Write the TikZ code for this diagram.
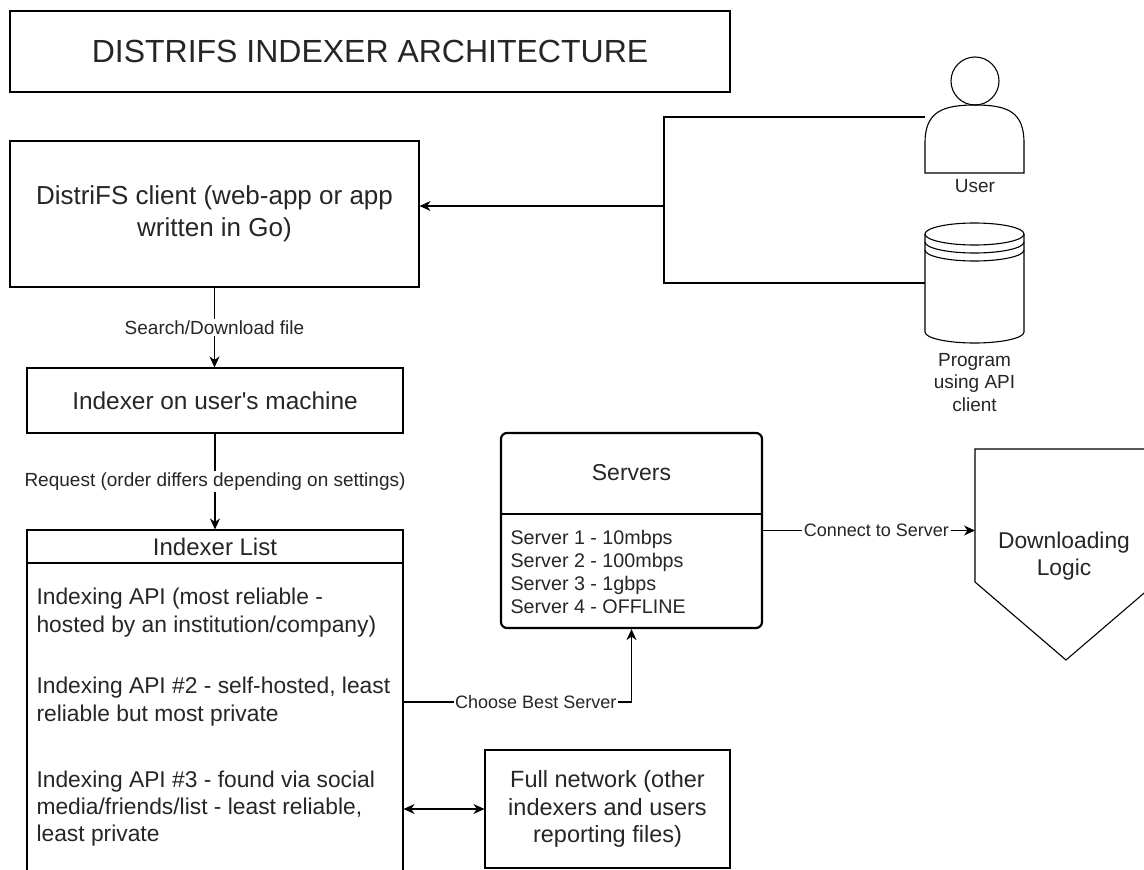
\documentclass[tikz,border=0pt]{standalone}
\usepackage{fontspec}
\setmainfont{Liberation Sans}
\usetikzlibrary{arrows.meta}
\definecolor{txt}{HTML}{262626}
\newcommand\fs[2]{\fontsize{#1}{#2}\selectfont}
\begin{document}
\begin{tikzpicture}[x=1pt,y=-1pt, line width=1.1pt,
  box/.style={draw, text=txt, align=center, inner sep=0pt},
  lbl/.style={fill=white, text=txt, inner sep=1.5pt, font=\fs{19}{22}},
  arr/.style={-{Stealth[length=11pt,width=10pt,inset=3.5pt]}},
  darr/.style={{Stealth[length=11pt,width=10pt,inset=3.5pt]}-{Stealth[length=11pt,width=10pt,inset=3.5pt]}},
  plain/.style={text=txt, inner sep=0pt}
]
\useasboundingbox (0,0) rectangle (1144,870);
\fill[white] (0,0) rectangle (1144,870);

% title
\node[box, minimum width=720pt, minimum height=81pt, font=\fs{32}{38}] (title) at (370,51.5) {DISTRIFS INDEXER ARCHITECTURE};

% client
\node[box, minimum width=409pt, minimum height=146pt, font=\fs{26}{32}] (client) at (214.5,214) {DistriFS client (web-app or app\\written in Go)};

% indexer on user's machine
\node[box, minimum width=376pt, minimum height=65pt, font=\fs{24.4}{29}] (idx) at (215,400.5) {Indexer on user\textquotesingle s machine};

% indexer list
\node[box, minimum width=376pt, minimum height=33pt, font=\fs{24}{29}] (ilhead) at (215,546.5) {Indexer List};
\node[draw, minimum width=376pt, minimum height=340pt, inner sep=0pt] (ilbody) at (215,733) {};
\node[plain, anchor=west, align=left, font=\fs{22.8}{28}] (it1) at (36,613) {Indexing API (most reliable -\\hosted by an institution/company)};
\node[plain, anchor=west, align=left, font=\fs{22.8}{28}] (it2) at (36,702) {Indexing API \#2 - self-hosted, least\\reliable but most private};
\node[plain, anchor=west, align=left, font=\fs{22.8}{27}] (it3) at (36,808.5) {Indexing API \#3 - found via social\\media/friends/list - least reliable,\\least private};

% servers
\node[draw, rounded corners=6pt, line width=2.2pt, minimum width=261pt, minimum height=195pt] (srv) at (631.5,530.5) {};
\draw[line width=2.2pt] (srv.west |- 0,514) -- (srv.east |- 0,514);
\node[plain, font=\fs{23}{28}] (srvt) at (631.5,473) {Servers};
\node[plain, anchor=west, align=left, font=\fs{19.7}{23}] (srvl) at (510,571.5) {Server 1 - 10mbps\\Server 2 - 100mbps\\Server 3 - 1gbps\\Server 4 - OFFLINE};

% downloading logic
\draw (975,449) -- (1157,449) -- (1157,582) -- (1066,660) -- (975,582) -- cycle;
\node[plain, align=center, font=\fs{22.8}{27}] (dl) at (1064,556) {Downloading\\Logic};
\coordinate (dlin) at (975,530.5);

% full network
\node[box, minimum width=245pt, minimum height=118pt, font=\fs{23.5}{27.5}] (fn) at (607.5,809) {Full network (other\\indexers and users\\reporting files)};

% user
\draw (975,81) circle[radius=24pt];
\draw (925,173) -- (925,143) .. controls (925,112) and (942,105) .. (975,105) .. controls (1008,105) and (1024,112) .. (1024,143) -- (1024,173) -- cycle;
\node[plain, font=\fs{19}{22.5}] (ulbl) at (975,186) {User};
\coordinate (uin) at (925,117);

% program (datastore)
\draw (925,234) -- (925,332) arc[start angle=180,end angle=360,x radius=49.5pt,y radius=11pt] -- (1024,234);
\draw (974.5,234) ellipse[x radius=49.5pt, y radius=11pt];
\draw (925,242) arc[start angle=180,end angle=360,x radius=49.5pt,y radius=11pt];
\draw (925,250) arc[start angle=180,end angle=360,x radius=49.5pt,y radius=11pt];
\node[plain, align=center, font=\fs{19}{22.5}] (dblbl) at (974.5,382.5) {Program\\using API\\client};
\coordinate (dbin) at (925,283);

% connectors
\coordinate (jn) at (664,206);
\draw (uin) -- (uin -| jn) -- (dbin -| jn) -- (dbin);
\draw[arr] (jn) -- (client.east |- jn);
\draw[arr] (client.south) -- node[lbl]{Search/Download file} (client.south |- idx.north);
\draw[arr] (idx.south) -- node[lbl]{Request (order differs depending on settings)} (ilhead.north);
\draw[arr] (srv.east) -- node[lbl, font=\fs{18}{21}, pos=0.535]{Connect to Server} (dlin);
\draw[arr] (ilbody.east |- it2) -| node[lbl, font=\fs{18}{21}, pos=0.29]{Choose Best Server} (srv.south);
\draw[darr] (ilbody.east |- fn) -- (fn.west);
\end{tikzpicture}
\end{document}
